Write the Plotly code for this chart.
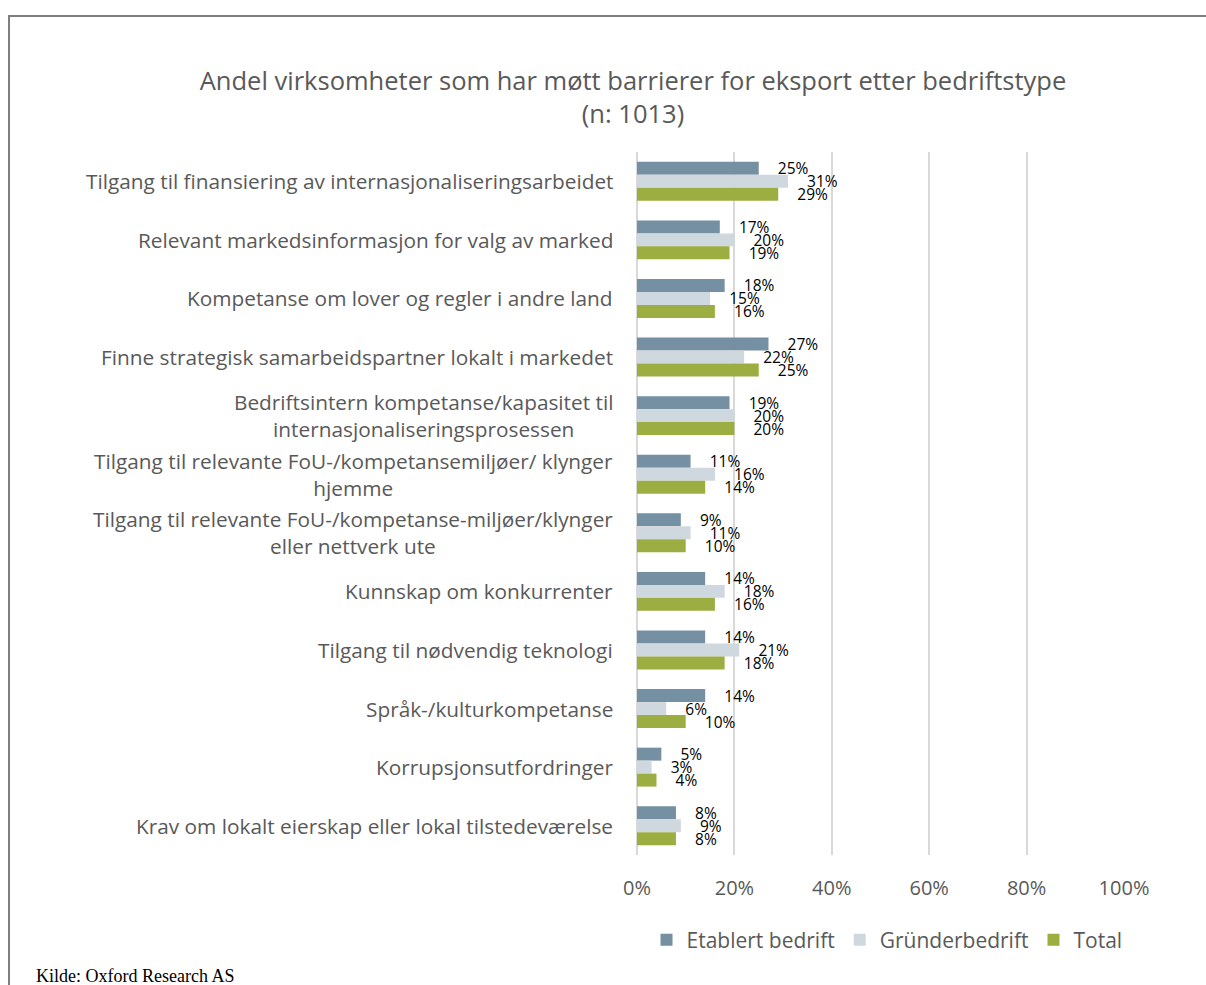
import plotly.graph_objects as go

# Barriers to export, share of firms by firm type (percent)
categories = [
    "Tilgang til finansiering av internasjonaliseringsarbeidet",
    "Relevant markedsinformasjon for valg av marked",
    "Kompetanse om lover og regler i andre land",
    "Finne strategisk samarbeidspartner lokalt i markedet",
    "Bedriftsintern kompetanse/kapasitet til<br>internasjonaliseringsprosessen",
    "Tilgang til relevante FoU-/kompetansemiljøer/ klynger<br>hjemme",
    "Tilgang til relevante FoU-/kompetanse-miljøer/klynger<br>eller nettverk ute",
    "Kunnskap om konkurrenter",
    "Tilgang til nødvendig teknologi",
    "Språk-/kulturkompetanse",
    "Korrupsjonsutfordringer",
    "Krav om lokalt eierskap eller lokal tilstedeværelse",
]
etablert = [25, 17, 18, 27, 19, 11, 9, 14, 14, 14, 5, 8]
grunder = [31, 20, 15, 22, 20, 16, 11, 18, 21, 6, 3, 9]
total = [29, 19, 16, 25, 20, 14, 10, 16, 18, 10, 4, 8]

series_names = ["Etablert bedrift", "Gründerbedrift", "Total"]
series_values = [etablert, grunder, total]
series_colors = ["#7590A3", "#D0D8DF", "#9CAE42"]

x_ticks = [0, 20, 40, 60, 80, 100]

FONT = "Open Sans"
GREY = "#595959"

W, H = 1206, 985
ML, MR, MT, MB = 637, 82, 152, 130
PW, PH = W - ML - MR, H - MT - MB


def px_x(x):
    return (x - ML) / PW


def px_y(y):
    return (H - MB - y) / PH


fig = go.Figure()
pad = "\u00a0" * 4
for name, vals, col in zip(series_names, series_values, series_colors):
    fig.add_trace(go.Bar(
        y=categories, x=vals, name=name, orientation="h",
        marker=dict(color=col, line=dict(width=0)),
        text=[f"{pad}{v}%" for v in vals],
        textposition="outside", constraintext="none", cliponaxis=False,
        textfont=dict(family=FONT, size=15.5, color="#000000"),
        hoverinfo="x+y+name",
    ))

annotations = []
for cat in categories:
    annotations.append(dict(
        xref="paper", yref="y", x=0, y=cat, xshift=-22,
        xanchor="right", yanchor="middle", align="center",
        text=cat, showarrow=False,
        font=dict(family=FONT, size=20.8, color=GREY),
    ))

annotations.append(dict(
    xref="paper", yref="paper", x=px_x(34), y=px_y(976),
    xanchor="left", yanchor="middle", text="Kilde: Oxford Research AS",
    showarrow=False, font=dict(family="Liberation Serif", size=18, color="#000000"),
))

fig.update_layout(
    width=W, height=H,
    margin=dict(l=ML, r=MR, t=MT, b=MB, autoexpand=False),
    paper_bgcolor="white", plot_bgcolor="white",
    barmode="group", bargap=0.335, bargroupgap=0,
    title=dict(
        text="Andel virksomheter som har møtt barrierer for eksport etter bedriftstype<br>(n: 1013)",
        x=633 / W, xanchor="center", xref="container",
        y=1 - 90 / H, yanchor="middle", yref="container",
        font=dict(family=FONT, size=25.5, color=GREY),
    ),
    xaxis=dict(
        range=[0, 100], tickvals=x_ticks, ticktext=[f"{t}%" for t in x_ticks],
        showgrid=True, gridcolor="#D9D9D9", gridwidth=2,
        zeroline=True, zerolinecolor="#D9D9D9", zerolinewidth=2,
        showline=False, ticks="", ticklabelstandoff=19,
        tickfont=dict(family=FONT, size=20, color=GREY),
    ),
    yaxis=dict(
        autorange="reversed", showticklabels=False, showgrid=False,
        zeroline=False, showline=False, ticks="",
    ),
    legend=dict(
        orientation="h", x=px_x(887), y=px_y(940),
        xanchor="center", yanchor="middle", itemwidth=30,
        font=dict(family=FONT, size=21, color=GREY),
        traceorder="normal",
    ),
    annotations=annotations,
    shapes=[dict(
        type="rect", xref="paper", yref="paper",
        x0=px_x(9), x1=px_x(1230), y0=px_y(16), y1=px_y(1010),
        line=dict(color="#7F7F7F", width=2), fillcolor="rgba(0,0,0,0)",
        layer="below",
    )],
    showlegend=True,
)

fig.write_html("out.html")
